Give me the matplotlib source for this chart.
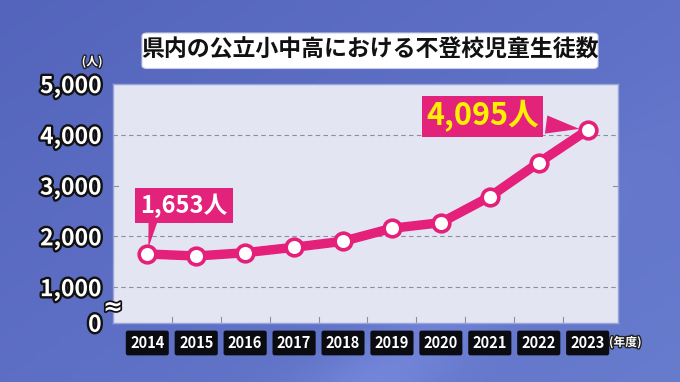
import numpy as np
import matplotlib
matplotlib.use("Agg")
import matplotlib.pyplot as plt
import matplotlib.patheffects as pe
from matplotlib.patches import FancyBboxPatch
from matplotlib.transforms import blended_transform_factory

plt.rcParams['font.family'] = ['Noto Sans CJK JP', 'DejaVu Sans']

# ---- data ----
years = [2014, 2015, 2016, 2017, 2018, 2019, 2020, 2021, 2022, 2023]
values = [1653, 1613, 1678, 1785, 1903, 2159, 2269, 2781, 3451, 4095]
year_labels = [str(y) for y in years]
ytick_values = [300, 1000, 2000, 3000, 4000, 5000]
ytick_labels = ['0', '1,000', '2,000', '3,000', '4,000', '5,000']
grid_values = [1000, 2000, 4000, 5000]
title = '県内の公立小中高における不登校児童生徒数'
first_label = '1,653人'
last_label = '4,095人'

W, H = 680, 382
fig = plt.figure(figsize=(W / 100, H / 100), dpi=100)

# background gradient
bg = fig.add_axes([0, 0, 1, 1])
bg.set_axis_off()
xx, yy = np.meshgrid(np.linspace(0, 1, 200), np.linspace(0, 1, 120))
t = 0.55 * xx + 0.45 * yy
c0 = np.array([84, 100, 188]) / 255
c1 = np.array([104, 124, 206]) / 255
img = c0[None, None, :] * (1 - t[..., None]) + c1[None, None, :] * t[..., None]
streak = np.exp(-((xx - 0.62 * (1 - yy) - 0.55) ** 2) / 0.01) * yy ** 2 * 0.06
img = np.clip(img + streak[..., None], 0, 1)
bg.imshow(img, aspect='auto', extent=[0, 1, 0, 1], origin='upper')
bg.set_xlim(0, 1)
bg.set_ylim(0, 1)

# title box
tb = FancyBboxPatch((142 / W, 1 - 68.5 / H), (598 - 142) / W, 35.5 / H,
                    boxstyle='round,pad=0,rounding_size=0.008',
                    transform=fig.transFigure, fc='white', ec='#c9cde6', lw=0.8, zorder=2)
fig.patches.append(tb)
fig.text(370 / W, 1 - 50.5 / H, title, ha='center', va='center', fontsize=16.5,
         fontweight='bold', color='#111111')

# main axes
left, right, top, bottom = 112.7, 618, 84, 322.7
ax = fig.add_axes([left / W, 1 - bottom / H, (right - left) / W, (bottom - top) / H])
ax.set_facecolor('#e3e6f2')
for s in ax.spines.values():
    s.set_color('#9aa3da')
    s.set_linewidth(1.0)
ax.set_xlim(2013.293, 2023.62)
ax.set_ylim(300, 5000)

for g in grid_values:
    ax.axhline(g, color='#8a8f9e', lw=0.8, ls=(0, (4, 3)), zorder=1)
# short ticks at 3000 at both edges
ax.plot([2013.293, 2013.293 + 0.1], [3000, 3000], color='#8a8f9e', lw=0.8, zorder=1)
ax.plot([2023.62 - 0.1, 2023.62], [3000, 3000], color='#8a8f9e', lw=0.8, zorder=1)
# bottom ticks between years
for i in range(len(years) - 1):
    xm = (years[i] + years[i + 1]) / 2
    ax.plot([xm, xm], [300, 420], color='#8a8f9e', lw=0.8, zorder=1)

ax.plot(years, values, color='#e5207a', lw=6.8, solid_joinstyle='round',
        solid_capstyle='round', zorder=3)
ax.plot(years, values, ls='none', marker='o', ms=12, mfc='white', mec='#e5207a',
        mew=2.6, zorder=4)

ax.set_xticks([])
ax.set_yticks(ytick_values)
ax.set_yticklabels(ytick_labels)
ax.tick_params(axis='y', length=0, pad=8)
for lab in ax.get_yticklabels():
    lab.set_fontsize(16.5)
    lab.set_fontweight('bold')
    lab.set_color('white')
    lab.set_path_effects([pe.withStroke(linewidth=3.4, foreground='#111111')])

# year label boxes
trans = blended_transform_factory(ax.transData, ax.transAxes)
for y, lab in zip(years, year_labels):
    ax.text(y, -0.085, lab, transform=trans, ha='center', va='center', fontsize=10.5,
            fontweight='bold', color='white',
            bbox=dict(boxstyle='round,pad=0.3,rounding_size=0.15', fc='#0b0b12', ec='none'))
fig.text(609 / W, 1 - 342.5 / H, '(年度)', ha='left', va='center',
         fontsize=8.5, fontweight='bold', color='white',
         path_effects=[pe.withStroke(linewidth=2, foreground='#222222')])

# (人) and ≈
fig.text(92 / W, 1 - 62 / H, '(人)', ha='center', va='center', fontsize=8.5,
         fontweight='bold', color='white',
         path_effects=[pe.withStroke(linewidth=2, foreground='#222222')])
fig.text(113 / W, 1 - 307 / H, '≈', ha='center', va='center', fontsize=17,
         fontweight='bold', color='white', family=['DejaVu Sans'],
         path_effects=[pe.withStroke(linewidth=2.5, foreground='#111111')])

# annotations
pink = '#e3227b'
# first-value callout: box + separate pointer from box bottom
ax.annotate(first_label, xy=(years[0], values[0]), xytext=(26.6, 34.7),
            textcoords='offset points', ha='center', va='center', fontsize=17,
            fontweight='bold', color='white',
            bbox=dict(boxstyle='square,pad=0.22', fc=pink, ec='none'), zorder=5)
ax.annotate('', xy=(years[0], values[0]), xytext=(4.6, 26.5),
            textcoords='offset points',
            arrowprops=dict(arrowstyle='wedge,tail_width=0.75,shrink_factor=0.5',
                            fc=pink, ec='none', shrinkA=0, shrinkB=4.5), zorder=5)
ax.annotate(last_label, xy=(years[-1], values[-1]), xytext=(-75.7, 9.9),
            textcoords='offset points', ha='center', va='center', fontsize=22,
            fontweight='bold', color='#fff000',
            bbox=dict(boxstyle='square,pad=0.15', fc=pink, ec='none'),
            arrowprops=dict(arrowstyle='wedge,tail_width=0.6,shrink_factor=0.5',
                            fc=pink, ec='none', shrinkB=6), zorder=5)

fig.savefig('out.png', dpi=100)
